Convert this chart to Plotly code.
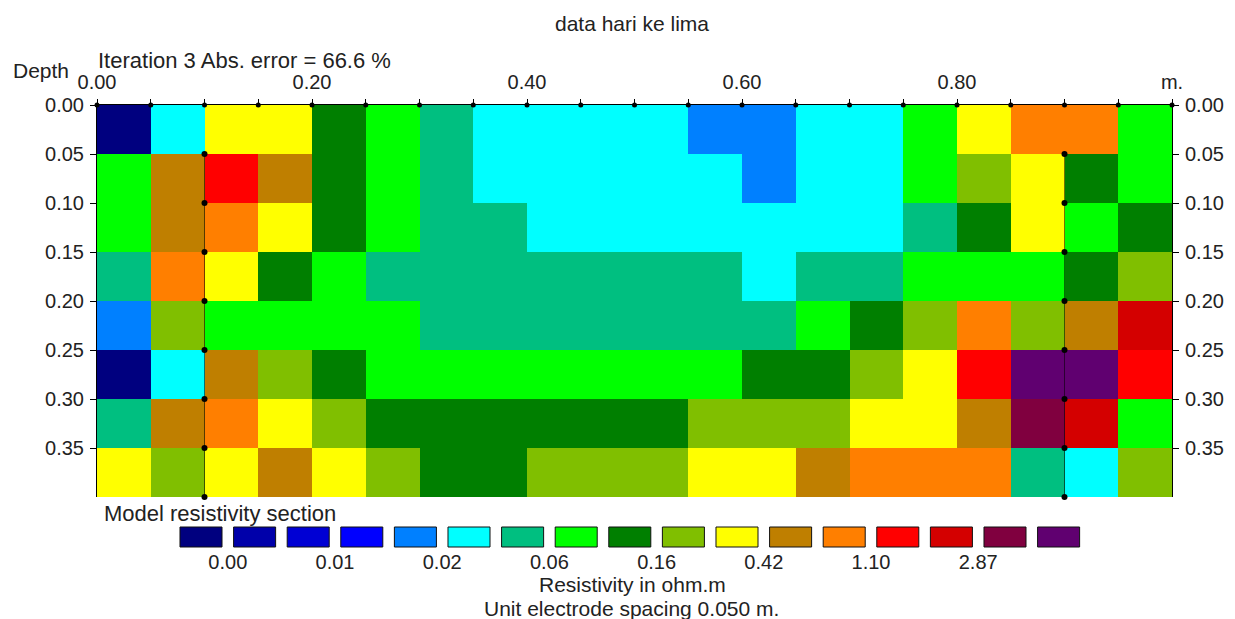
import plotly.graph_objects as go

# ---------------- data ----------------
chart_title = "data hari ke lima"
iteration_text = "Iteration 3 Abs. error = 66.6 %"

# model block centres (m)
col_centers = [0.025, 0.075, 0.125, 0.175, 0.225, 0.275, 0.325, 0.375, 0.425, 0.475,
               0.525, 0.575, 0.625, 0.675, 0.725, 0.775, 0.825, 0.875, 0.925, 0.975]
depth_centers = [0.025, 0.075, 0.125, 0.175, 0.225, 0.275, 0.325, 0.375]

# resistivity class of every model block (index into class_colors), rows = depth
model_class = [
    [0, 5, 10, 10, 8, 7, 6, 5, 5, 5, 5, 4, 4, 5, 5, 7, 10, 12, 12, 7],
    [7, 11, 13, 11, 8, 7, 6, 5, 5, 5, 5, 5, 4, 5, 5, 7, 9, 10, 8, 7],
    [7, 11, 12, 10, 8, 7, 6, 6, 5, 5, 5, 5, 5, 5, 5, 6, 8, 10, 7, 8],
    [6, 12, 10, 8, 7, 6, 6, 6, 6, 6, 6, 6, 5, 6, 6, 7, 7, 7, 8, 9],
    [4, 9, 7, 7, 7, 7, 6, 6, 6, 6, 6, 6, 6, 7, 8, 9, 12, 9, 11, 14],
    [0, 5, 11, 9, 8, 7, 7, 7, 7, 7, 7, 7, 8, 8, 9, 10, 13, 16, 16, 13],
    [6, 11, 12, 10, 9, 8, 8, 8, 8, 8, 8, 9, 9, 9, 10, 10, 11, 15, 14, 7],
    [10, 9, 10, 11, 10, 9, 8, 8, 9, 9, 9, 10, 10, 11, 12, 12, 12, 6, 5, 9],
]

class_colors = ["#00007F", "#0000AA", "#0000D4", "#0000FF", "#0080FF", "#00FFFF",
                "#00BF80", "#00FF00", "#007F00", "#80BF00", "#FFFF00", "#BF7F00",
                "#FF7F00", "#FF0000", "#D40000", "#80003F", "#600070"]
class_index = list(range(17))
legend_label_pos = [0.5, 2.5, 4.5, 6.5, 8.5, 10.5, 12.5, 14.5]
legend_labels = ["0.00", "0.01", "0.02", "0.06", "0.16", "0.42", "1.10", "2.87"]

x_tick_pos = [0.0, 0.05, 0.10, 0.15, 0.20, 0.25, 0.30, 0.35, 0.40, 0.45, 0.50,
              0.55, 0.60, 0.65, 0.70, 0.75, 0.80, 0.85, 0.90, 0.95, 1.0]
x_tick_text = ["0.00", "", "", "", "0.20", "", "", "", "0.40", "", "",
               "", "0.60", "", "", "", "0.80", "", "", "", "m."]
depth_ticks = [0.0, 0.05, 0.10, 0.15, 0.20, 0.25, 0.30, 0.35]
depth_tick_text = ["0.00", "0.05", "0.10", "0.15", "0.20", "0.25", "0.30", "0.35"]

electrode_x = [0.10, 0.90]
datum_depths = [0.05, 0.10, 0.15, 0.20, 0.25, 0.30, 0.35, 0.40]

# ---------------- figure ----------------
FONT = "Arial, 'Liberation Sans', sans-serif"
TXT = "#222222"
n = len(class_colors)
cscale = []
for k, c in enumerate(class_colors):
    cscale.append([k / n, c])
    cscale.append([(k + 1) / n, c])

fig = go.Figure()
fig.add_trace(go.Heatmap(x=col_centers, y=depth_centers, z=model_class,
                         colorscale=cscale, zmin=-0.5, zmax=n - 0.5,
                         showscale=False, hoverinfo="skip",
                         xaxis="x", yaxis="y"))

for ex in electrode_x:
    fig.add_trace(go.Scatter(x=[ex] * len(datum_depths), y=datum_depths,
                             mode="lines+markers",
                             line=dict(color="rgba(0,0,0,0.55)", width=1),
                             marker=dict(color="black", size=6),
                             cliponaxis=False, showlegend=False, hoverinfo="skip"))

fig.add_trace(go.Scatter(x=x_tick_pos, y=[0.0] * len(x_tick_pos), mode="markers",
                         marker=dict(color="black", size=5),
                         cliponaxis=False, showlegend=False, hoverinfo="skip"))

# dummy trace so the right-hand depth axis is drawn
fig.add_trace(go.Scatter(x=[0.5], y=[0.2], mode="markers", marker=dict(opacity=0),
                         xaxis="x", yaxis="y2", showlegend=False, hoverinfo="skip"))

# colour legend boxes
fig.add_trace(go.Bar(x=class_index, y=[1] * n, base=0, width=0.784,
                     marker=dict(color=class_colors, line=dict(color="#111111", width=1)),
                     xaxis="x3", yaxis="y3", showlegend=False, hoverinfo="skip"))

W, H = 1235, 619
ML, MR, MT, MB = 97, 63, 105, 71
PW, PH = W - ML - MR, H - MT - MB
def px_x(p):
    return (p - ML) / PW
def px_y(p):
    return (H - MB - p) / PH

axis_common = dict(showgrid=False, zeroline=False, showline=True, linecolor="black",
                   linewidth=1, ticks="outside", tickcolor="black",
                   tickfont=dict(family=FONT, size=20, color=TXT))

fig.update_layout(
    width=W, height=H,
    margin=dict(l=ML, r=MR, t=MT, b=MB, pad=0),
    paper_bgcolor="white", plot_bgcolor="white",
    showlegend=False,
    title=dict(text=chart_title, x=px_x(632), xref="paper", xanchor="center",
               y=1 - 24 / H, yref="container", yanchor="middle",
               font=dict(family=FONT, size=21, color=TXT)),
    xaxis=dict(domain=[0, 1], range=[0, 1], side="top", anchor="y",
               tickvals=x_tick_pos, ticktext=x_tick_text, ticklen=5,
               ticklabelstandoff=2, **axis_common),
    yaxis=dict(domain=[px_y(497), 1], range=[0.40, 0], anchor="x",
               tickvals=depth_ticks, ticktext=depth_tick_text, ticklen=6,
               ticklabelstandoff=2, **axis_common),
    yaxis2=dict(overlaying="y", side="right", anchor="x", range=[0.40, 0],
                tickvals=depth_ticks, ticktext=depth_tick_text, ticklen=6,
                ticklabelstandoff=2, **axis_common),
    xaxis3=dict(domain=[px_x(174.2), px_x(1085.4)], anchor="y3", range=[-0.5, n - 0.5],
                tickvals=legend_label_pos, ticktext=legend_labels,
                showgrid=False, zeroline=False, showline=False, ticks="",
                tickfont=dict(family=FONT, size=20, color=TXT)),
    yaxis3=dict(domain=[px_y(548), px_y(526)], anchor="x3", range=[-0.05, 1.05],
                visible=False),
    annotations=[
        dict(text=iteration_text, x=px_x(96), y=px_y(61), xref="paper", yref="paper",
             xanchor="left", yanchor="middle", showarrow=False,
             font=dict(family=FONT, size=22, color=TXT)),
        dict(text="Depth", x=px_x(11), y=px_y(70), xref="paper", yref="paper",
             xanchor="left", yanchor="middle", showarrow=False,
             font=dict(family=FONT, size=21, color=TXT)),
        dict(text="Model resistivity section", x=px_x(102), y=px_y(513),
             xref="paper", yref="paper", xanchor="left", yanchor="middle",
             showarrow=False, font=dict(family=FONT, size=22, color=TXT)),
        dict(text="Resistivity in ohm.m", x=px_x(632), y=px_y(584),
             xref="paper", yref="paper", xanchor="center", yanchor="middle",
             showarrow=False, font=dict(family=FONT, size=21, color=TXT)),
        dict(text="Unit electrode spacing 0.050 m.", x=px_x(631), y=px_y(608),
             xref="paper", yref="paper", xanchor="center", yanchor="middle",
             showarrow=False, font=dict(family=FONT, size=21, color=TXT)),
    ],
)

fig.write_html("out.html")
